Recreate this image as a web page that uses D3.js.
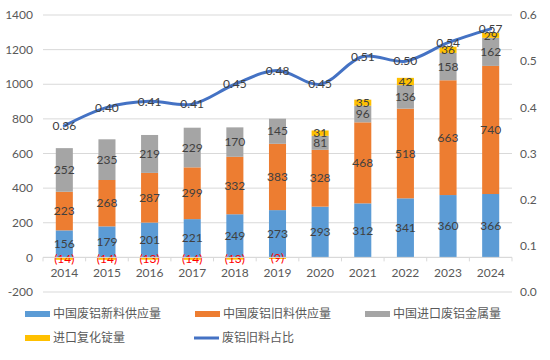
<!DOCTYPE html>
<html>
<head>
<meta charset="utf-8">
<script src="https://cdn.jsdelivr.net/npm/d3@7"></script>
<style>
body { margin: 0; background: #fff; }
text { font-family: Lato, "Noto Sans CJK SC", sans-serif; }
.legend text { font-family: "Noto Sans CJK SC", sans-serif; }
</style>
</head>
<body>
<div id="chart"></div>
<script>
var years = ["2014","2015","2016","2017","2018","2019","2020","2021","2022","2023","2024"];
var newScrap = [156,179,201,221,249,273,293,312,341,360,366];
var oldScrap = [223,268,287,299,332,383,328,468,518,663,740];
var importScrap = [252,235,219,229,170,145,81,96,136,158,162];
var importIngot = [-14,-14,-13,-14,-13,-9,31,35,42,36,29];
var oldRatio = [0.36,0.40,0.413,0.407,0.45,0.48,0.45,0.51,0.50,0.54,0.57];
var leftTicks = [-200,0,200,400,600,800,1000,1200,1400];
var rightTicks = [0,0.1,0.2,0.3,0.4,0.5,0.6];

var seriesNames = ["中国废铝新料供应量","中国废铝旧料供应量","中国进口废铝金属量","进口复化锭量"];
var lineName = "废铝旧料占比";
var colors = ["#5B9BD5","#ED7D31","#A5A5A5","#FFC000"];
var lineColor = "#4472C4";

var W = 550, H = 360;
var margin = {top:15, right:38, bottom:68, left:43};

var svg = d3.select("#chart").append("svg")
    .attr("width", W).attr("height", H);

var x = d3.scaleBand()
    .domain(years)
    .range([margin.left, W - margin.right])
    .paddingInner(0.6).paddingOuter(0.3);

var y = d3.scaleLinear()
    .domain([-200, 1400])
    .range([H - margin.bottom, margin.top]);

var y2 = d3.scaleLinear()
    .domain([0, 0.6])
    .range([H - margin.bottom, margin.top]);

// gridlines
svg.append("g").selectAll("line")
    .data(leftTicks)
    .enter().append("line")
    .attr("x1", margin.left).attr("x2", W - margin.right)
    .attr("y1", d => y(d)).attr("y2", d => y(d))
    .attr("stroke", "#D9D9D9").attr("stroke-width", 1);

// left axis labels
svg.append("g").selectAll("text")
    .data(leftTicks)
    .enter().append("text")
    .attr("x", 33).attr("y", d => y(d)).attr("dy", "0.35em")
    .attr("text-anchor", "end")
    .attr("font-size", 12).attr("fill", "#595959")
    .text(d => d);

// right axis labels
svg.append("g").selectAll("text")
    .data(rightTicks)
    .enter().append("text")
    .attr("x", 520).attr("y", d => y2(d)).attr("dy", "0.35em")
    .attr("font-size", 12).attr("fill", "#595959")
    .text(d => d3.format(".1f")(d));

// stacked data
var table = years.map((yr, i) => ({year: yr, s0: newScrap[i], s1: oldScrap[i], s2: importScrap[i], s3: importIngot[i]}));
var stack = d3.stack().keys(["s0","s1","s2","s3"]).offset(d3.stackOffsetDiverging);
var stacked = stack(table);

var layers = svg.append("g").selectAll("g")
    .data(stacked)
    .enter().append("g")
    .attr("fill", (d,i) => colors[i]);

layers.selectAll("rect")
    .data(d => d)
    .enter().append("rect")
    .attr("x", d => x(d.data.year))
    .attr("width", x.bandwidth())
    .attr("y", d => y(Math.max(d[0], d[1])))
    .attr("height", d => Math.abs(y(d[0]) - y(d[1])));

// x axis line + ticks
var x0 = y(0);
svg.append("line")
    .attr("x1", margin.left).attr("x2", W - margin.right)
    .attr("y1", x0).attr("y2", x0)
    .attr("stroke", "#D9D9D9");
svg.append("g").selectAll("line")
    .data(d3.range(years.length + 1))
    .enter().append("line")
    .attr("x1", i => margin.left + i * (W - margin.left - margin.right) / years.length)
    .attr("x2", i => margin.left + i * (W - margin.left - margin.right) / years.length)
    .attr("y1", x0).attr("y2", x0 + 4)
    .attr("stroke", "#D9D9D9");

// year labels
svg.append("g").selectAll("text")
    .data(years)
    .enter().append("text")
    .attr("x", d => x(d) + x.bandwidth()/2)
    .attr("y", 273).attr("dy", "0.35em")
    .attr("text-anchor", "middle")
    .attr("font-size", 12).attr("fill", "#595959")
    .text(d => d);

// bar labels
layers.each(function(layer, li) {
  d3.select(this).selectAll("text")
    .data(layer)
    .enter().append("text")
    .attr("x", d => x(d.data.year) + x.bandwidth()/2)
    .attr("y", d => (y(d[0]) + y(d[1]))/2)
    .attr("dy", "0.35em")
    .attr("text-anchor", "middle")
    .attr("font-size", 12)
    .attr("fill", d => d.data[layer.key] < 0 ? "#FF0000" : "#404040")
    .text(d => {
      var v = d.data[layer.key];
      return v < 0 ? "(" + Math.abs(v) + ")" : v;
    });
});

// ratio line
var line = d3.line()
    .x((d,i) => x(years[i]) + x.bandwidth()/2)
    .y(d => y2(d))
    .curve(d3.curveCatmullRom.alpha(0.5));

svg.append("path")
    .datum(oldRatio)
    .attr("d", line)
    .attr("fill", "none")
    .attr("stroke", lineColor)
    .attr("stroke-width", 3)
    .attr("stroke-linecap", "round");

svg.append("g").selectAll("text")
    .data(oldRatio)
    .enter().append("text")
    .attr("x", (d,i) => x(years[i]) + x.bandwidth()/2)
    .attr("y", d => y2(d))
    .attr("dy", "0.35em")
    .attr("text-anchor", "middle")
    .attr("font-size", 12).attr("fill", "#404040")
    .text(d => d3.format(".2f")(d));

// legend
var legendItems = [
  {name: seriesNames[0], color: colors[0], x: 25, y: 314},
  {name: seriesNames[1], color: colors[1], x: 195, y: 314},
  {name: seriesNames[2], color: colors[2], x: 365, y: 314},
  {name: seriesNames[3], color: colors[3], x: 25, y: 338},
  {name: lineName, color: lineColor, x: 194, y: 338, isLine: true}
];
var lg = svg.append("g").attr("class", "legend").selectAll("g")
    .data(legendItems)
    .enter().append("g")
    .attr("transform", d => "translate(" + d.x + "," + d.y + ")");
lg.append("rect")
    .attr("x", 0).attr("y", d => d.isLine ? -1.5 : -3)
    .attr("width", 25).attr("height", d => d.isLine ? 3 : 6)
    .attr("fill", d => d.color);
lg.append("text")
    .attr("x", 28).attr("dy", "0.35em")
    .attr("font-size", 12).attr("fill", "#595959")
    .text(d => d.name);
</script>
</body>
</html>
